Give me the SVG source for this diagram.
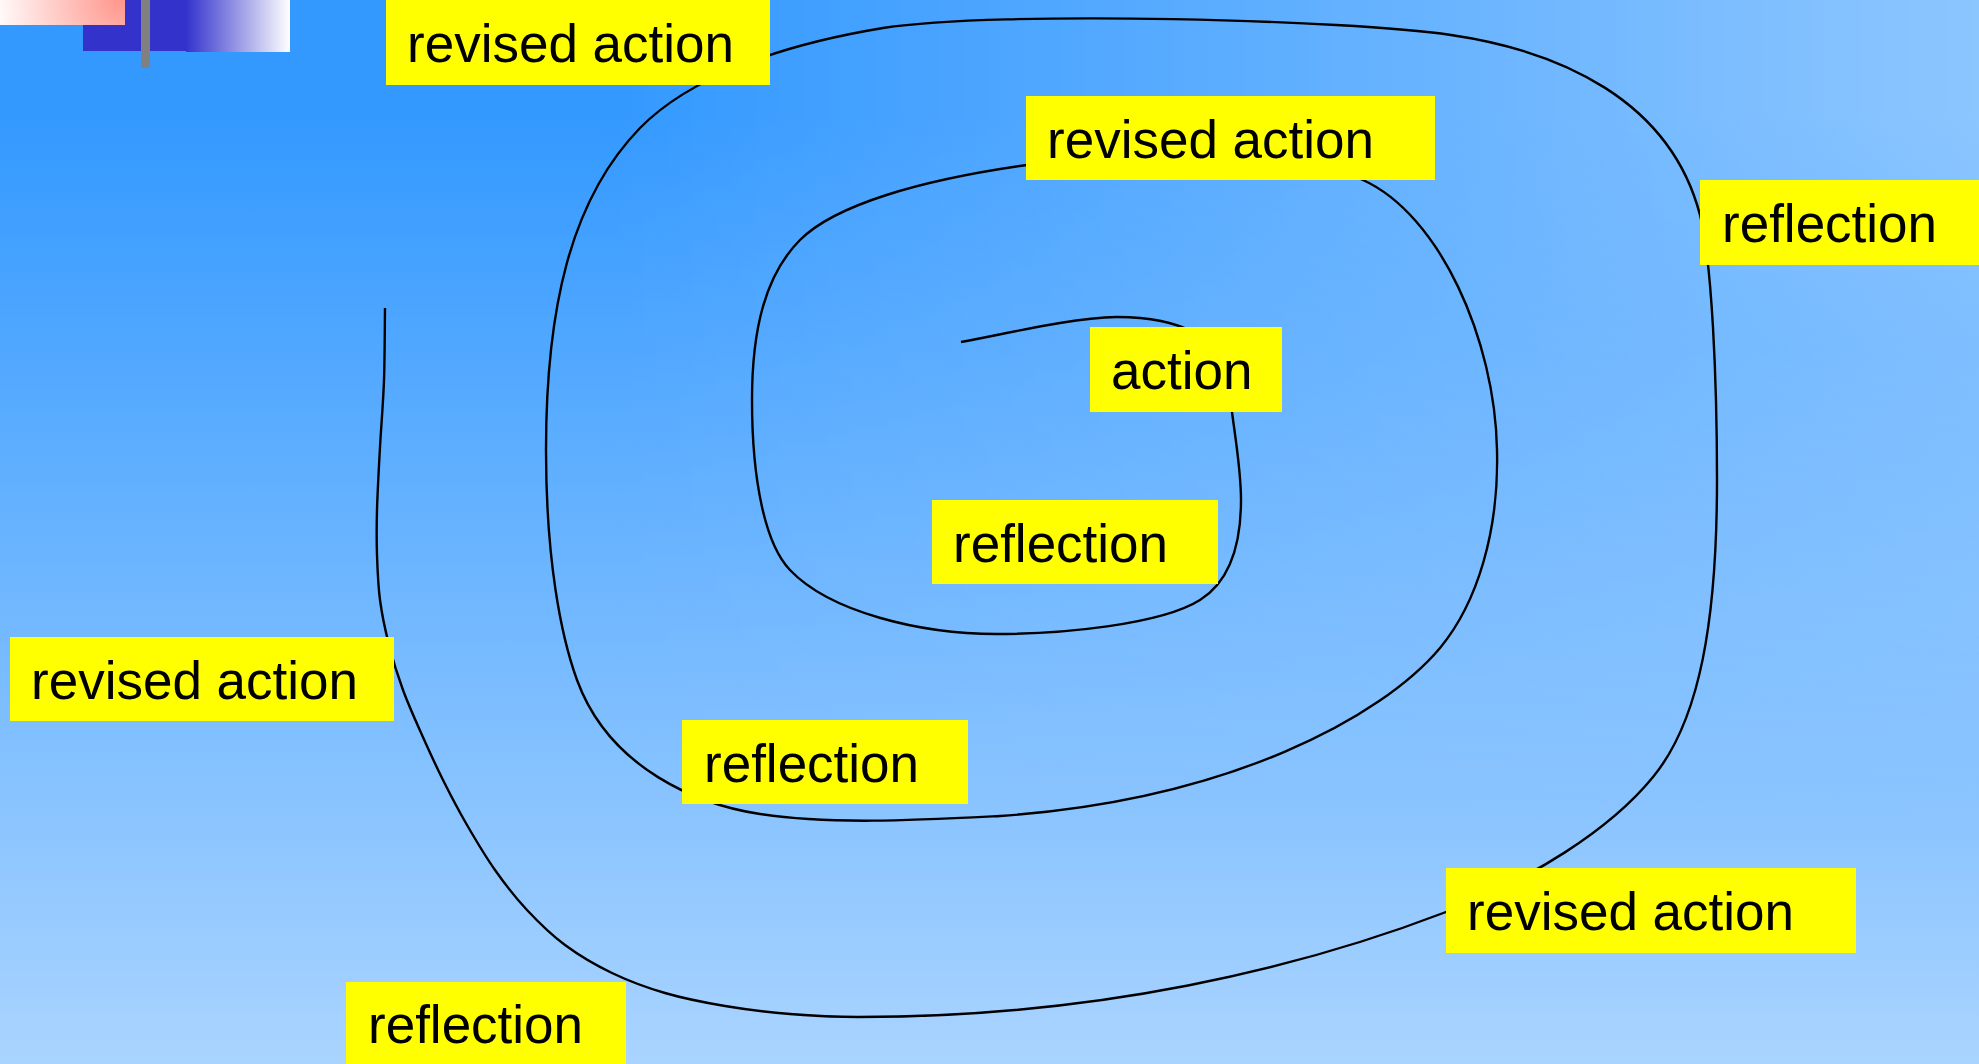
<svg xmlns="http://www.w3.org/2000/svg" width="1979" height="1064" viewBox="0 0 1979 1064">
<defs>
<linearGradient id="bgV" x1="0" y1="0" x2="0" y2="1064" gradientUnits="userSpaceOnUse">
<stop offset="0" stop-color="#3399ff"/>
<stop offset="0.108" stop-color="#3399ff"/>
<stop offset="1" stop-color="#aad4ff"/>
</linearGradient>
<linearGradient id="bgH" x1="600" y1="0" x2="1979" y2="0" gradientUnits="userSpaceOnUse">
<stop offset="0" stop-color="#ffffff" stop-opacity="0"/>
<stop offset="1" stop-color="#ffffff" stop-opacity="0.44"/>
</linearGradient>
<linearGradient id="fadeV" x1="0" y1="0" x2="0" y2="1064" gradientUnits="userSpaceOnUse">
<stop offset="0" stop-color="#ffffff"/>
<stop offset="0.108" stop-color="#ffffff"/>
<stop offset="0.33" stop-color="#999999"/>
<stop offset="0.56" stop-color="#595959"/>
<stop offset="0.78" stop-color="#000000"/>
</linearGradient>
<mask id="fadeMask" maskUnits="userSpaceOnUse" x="0" y="0" width="1979" height="1064">
<rect x="0" y="0" width="1979" height="1064" fill="url(#fadeV)"/>
</mask>
<radialGradient id="pink" cx="122" cy="0" r="130" gradientUnits="userSpaceOnUse">
<stop offset="0" stop-color="#ff968c"/>
<stop offset="1" stop-color="#ffffff"/>
</radialGradient>
<linearGradient id="blueFade" x1="186" y1="0" x2="290" y2="0" gradientUnits="userSpaceOnUse">
<stop offset="0" stop-color="#3333cc"/>
<stop offset="1" stop-color="#ffffff"/>
</linearGradient>
<style>
.box{fill:#ffff00;}
.lbl{font-family:"Liberation Sans",Arial,sans-serif;font-size:53px;fill:#000000;}
.spiral{fill:none;stroke:#000000;stroke-width:2.4;stroke-linecap:butt;stroke-linejoin:round;}
</style>
</defs>

<rect x="0" y="0" width="1979" height="1064" fill="url(#bgV)"/>
<rect x="0" y="0" width="1979" height="1064" fill="url(#bgH)" mask="url(#fadeMask)"/>

<g id="decor">
<rect x="83" y="0" width="103" height="51" fill="#3333cc"/>
<rect x="186" y="0" width="104" height="52" fill="url(#blueFade)"/>
<rect x="0" y="0" width="125" height="25" fill="url(#pink)"/>
<rect x="141" y="0" width="9" height="68" fill="#808080"/>
</g>

<g id="connectors">
<path class="spiral" d="M961,342
C1010,333 1070,318 1117,317
C1150,317 1175,322 1195,333
C1215,345 1228,380 1232,412
C1235,436 1241,470 1241,500
C1241,540 1232,580 1200,600
C1160,625 1060,634 997,634
C920,634 830,612 790,570
C765,544 752,480 752,400
C752,330 765,275 800,240
C835,205 920,180 1027,165
C1130,150 1300,150 1363,180
C1440,215 1495,340 1497,450
C1499,530 1478,602 1440,648
C1382,717 1230,800 1000,816
C920,820 830,825 760,814
C700,805 610,770 577,680
C561,636 546,560 546,450
C546,310 570,200 640,128
C690,77 780,45 883,28
C1000,10 1350,20 1451,35
C1560,51 1670,100 1700,215
C1712,262 1717,380 1717,480
C1717,620 1700,720 1653,777
C1610,830 1530,880 1446,912
C1300,968 1100,1017 858,1017
C836,1017 812.2,1015.8 790,1014
C767.8,1012.2 745.8,1009.5 725,1006
C704.2,1002.5 683.8,998.5 665,993
C646.2,987.5 628.7,981 612,973
C595.3,965 579.2,955.5 565,945
C550.8,934.5 538.7,922.5 527,910
C515.3,897.5 505,884.2 495,870
C485,855.8 475.7,840 467,825
C458.3,810 450.5,795 443,780
C435.5,765 428.7,750 422,735
C415.3,720 408.5,705 403,690
C397.5,675 392.8,660 389,645
C385.2,630 382,615 380,600
C378,585 377.5,570 377,555
C376.5,540 376.5,528 377,510
C377.5,492 378.8,468.7 380,447
C381.2,425.3 383.2,403.2 384,380
C384.8,356.8 384.8,320 385,308"/>
</g>

<g id="node-revised-action-1">
<rect class="box" x="386" y="0" width="384" height="85"/>
<text class="lbl" x="407" y="62">revised action</text>
</g>
<g id="node-revised-action-2">
<rect class="box" x="1026" y="96" width="409" height="84"/>
<text class="lbl" x="1047" y="158">revised action</text>
</g>
<g id="node-reflection-right">
<rect class="box" x="1700" y="180" width="279" height="85"/>
<text class="lbl" x="1722" y="242">reflection</text>
</g>
<g id="node-action">
<rect class="box" x="1090" y="327" width="192" height="85"/>
<text class="lbl" x="1111" y="389">action</text>
</g>
<g id="node-reflection-inner">
<rect class="box" x="932" y="500" width="286" height="84"/>
<text class="lbl" x="953" y="562">reflection</text>
</g>
<g id="node-revised-action-left">
<rect class="box" x="10" y="637" width="384" height="84"/>
<text class="lbl" x="31" y="699">revised action</text>
</g>
<g id="node-reflection-middle">
<rect class="box" x="682" y="720" width="286" height="84"/>
<text class="lbl" x="704" y="782">reflection</text>
</g>
<g id="node-revised-action-bottom">
<rect class="box" x="1446" y="868" width="410" height="85"/>
<text class="lbl" x="1467" y="930">revised action</text>
</g>
<g id="node-reflection-bottom">
<rect class="box" x="346" y="982" width="280" height="82"/>
<text class="lbl" x="368" y="1043">reflection</text>
</g>
</svg>
